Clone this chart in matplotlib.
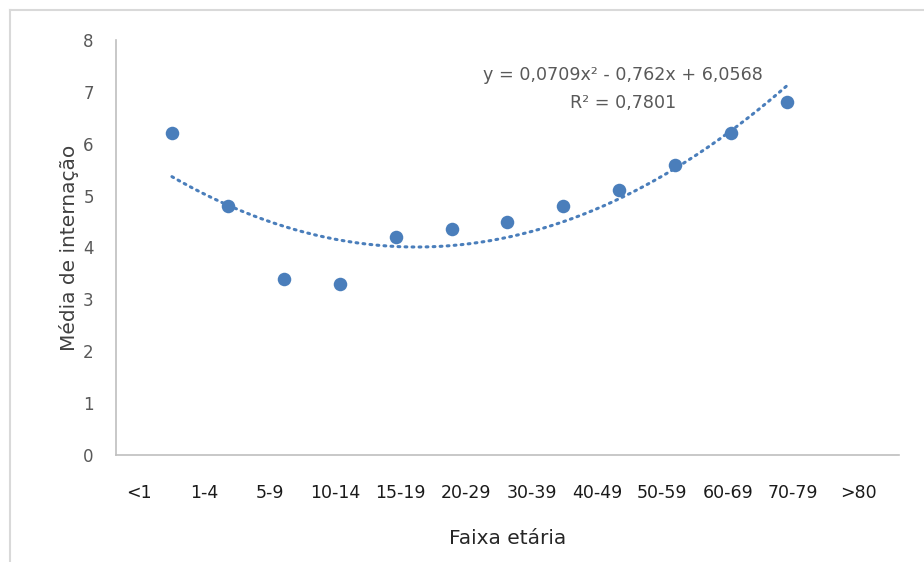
import matplotlib
matplotlib.use("Agg")
import matplotlib.pyplot as plt
from matplotlib.lines import Line2D
import numpy as np

# Data
categories = ["<1", "1-4", "5-9", "10-14", "15-19", "20-29", "30-39",
              "40-49", "50-59", "60-69", "70-79", ">80"]
point_x = [1, 2, 3, 4, 5, 6, 7, 8, 9, 10, 11, 12]
point_y = [6.2, 4.8, 3.4, 3.3, 4.2, 4.35, 4.5, 4.8, 5.1, 5.6, 6.2, 6.8]
trend_coef = [0.0709, -0.762, 6.0568]
r_squared = 0.7801
y_ticks = [0, 1, 2, 3, 4, 5, 6, 7, 8]

blue = "#4a7ebb"

fig = plt.figure(figsize=(9.24, 5.62), dpi=100)
W, H = 924, 562
ax = fig.add_axes([116 / W, 1 - 455 / H, (899 - 116) / W, (455 - 40) / H])

ax.scatter(point_x, point_y, s=95, color=blue, zorder=3, linewidths=0)

xs = np.linspace(min(point_x), max(point_x), 300)
ys = np.polyval(trend_coef, xs)
ax.plot(xs, ys, color=blue, lw=2.2, linestyle=(0, (0.6, 1.7)),
        dash_capstyle="round", zorder=2)

ax.set_xlim(0, 14)
ax.set_ylim(0, 8)

for s in ["top", "right"]:
    ax.spines[s].set_visible(False)
for s in ["left", "bottom"]:
    ax.spines[s].set_color("#bfbfbf")
    ax.spines[s].set_linewidth(1.2)

ax.set_yticks(y_ticks)
ax.set_yticklabels([str(v) for v in y_ticks])
ax.tick_params(axis="y", length=0, pad=16, labelsize=12, labelcolor="#595959")

label_pos = np.linspace(0.41, 13.28, len(categories))
ax.set_xticks(label_pos)
ax.set_xticklabels(categories)
ax.tick_params(axis="x", length=0, pad=21, labelsize=12.5, labelcolor="#1a1a1a")

ax.set_xlabel("Faixa etária", fontsize=14.5, color="#262626", labelpad=19)
ax.set_ylabel("Média de internação", fontsize=14.5, color="#404040", labelpad=3)

a, b, c = trend_coef
eq = ("y = " + f"{a:.4f}".replace(".", ",") + "x² - " +
      f"{-b:.3f}".replace(".", ",") + "x + " + f"{c:.4f}".replace(".", ","))
r2 = "R² = " + f"{r_squared:.4f}".replace(".", ",")
ax.text(9.06, 7.32, eq, ha="center", va="center", fontsize=12.6, color="#595959")
ax.text(9.06, 6.79, r2, ha="center", va="center", fontsize=12.6, color="#595959")

# outer frame (partially visible)
fig.add_artist(Line2D([10 / W, 10 / W], [0, 1 - 10 / H], color="#d9d9d9", lw=1.5,
                      transform=fig.transFigure))
fig.add_artist(Line2D([10 / W, 1], [1 - 10 / H, 1 - 10 / H], color="#d9d9d9", lw=1.5,
                      transform=fig.transFigure))

fig.savefig("out.png", dpi=100)
